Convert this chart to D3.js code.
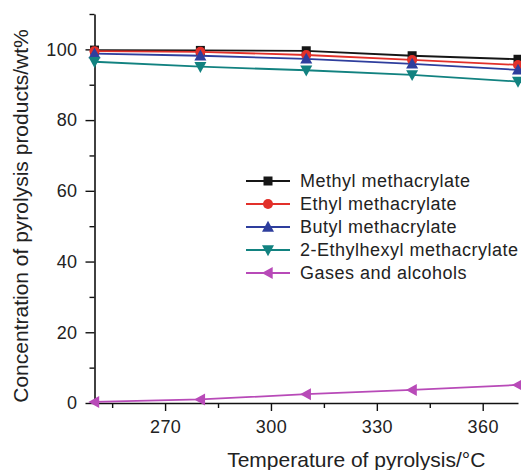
<!DOCTYPE html>
<html>
<head>
<meta charset="utf-8">
<script src="https://cdn.jsdelivr.net/npm/d3@7"></script>
<style>
  body { margin: 0; background: #fff; }
  svg { display: block; font-family: "Liberation Sans", Arial, sans-serif; }
</style>
</head>
<body>
<div id="chart"></div>
<script>
// data
const temps = [250, 280, 310, 340, 370];
const seriesNames = ["Methyl methacrylate", "Ethyl methacrylate", "Butyl methacrylate",
                     "2-Ethylhexyl methacrylate", "Gases and alcohols"];
const methyl = [99.8, 99.7, 99.6, 98.2, 97.2];
const ethyl = [99.5, 99.3, 98.4, 97.0, 95.6];
const butyl = [98.8, 98.2, 97.3, 95.9, 94.2];
const ethylhexyl = [96.5, 95.1, 94.1, 92.8, 90.9];
const gases = [0.3, 1.0, 2.5, 3.7, 5.1];
const xTickLabels = [270, 300, 330, 360];
const yTickLabels = [0, 20, 40, 60, 80, 100];

const colors = ["#161616", "#e2302a", "#2e3e9d", "#128280", "#b84ab8"];
const shapes = ["square", "circle", "up", "down", "left"];
const allSeries = [methyl, ethyl, butyl, ethylhexyl, gases];

const width = 521, height = 470;
const margin = {left: 94.5, right: 3, top: 14, bottom: 67};

const svg = d3.select("#chart").append("svg")
  .attr("width", width)
  .attr("height", height);

const x = d3.scaleLinear().domain([250, 370]).range([margin.left, width - margin.right]);
const y = d3.scaleLinear().domain([0, 110]).range([height - margin.bottom, margin.top]);

// minor ticks
svg.append("g")
  .attr("transform", `translate(0,${y(0)})`)
  .call(d3.axisBottom(x).tickValues([255, 285, 315, 345]).tickSize(5).tickFormat(""))
  .call(g => g.select(".domain").remove());
svg.append("g")
  .attr("transform", `translate(${x(250)},0)`)
  .call(d3.axisLeft(y).tickValues([10, 30, 50, 70, 90, 110]).tickSize(5).tickFormat(""))
  .call(g => g.select(".domain").remove());

// x axis
const gx = svg.append("g")
  .attr("transform", `translate(0,${y(0)})`)
  .call(d3.axisBottom(x).tickValues(xTickLabels).tickSize(8).tickPadding(9).tickSizeOuter(0));
gx.selectAll("text").attr("font-size", 18).attr("letter-spacing", 0.4).attr("fill", "#222").attr("font-family", null);

// y axis
const gy = svg.append("g")
  .attr("transform", `translate(${x(250)},0)`)
  .call(d3.axisLeft(y).tickValues(yTickLabels).tickSize(9).tickPadding(8).tickSizeOuter(0));
gy.selectAll("text").attr("font-size", 18).attr("letter-spacing", 0.4).attr("fill", "#222").attr("font-family", null);

svg.selectAll(".domain").attr("stroke", "#111").attr("stroke-width", 1.6);
svg.selectAll(".tick line").attr("stroke", "#111").attr("stroke-width", 1.4);

// axis titles
svg.append("text")
  .attr("x", (x(250) + x(370)) / 2 + 50)
  .attr("y", 467)
  .attr("text-anchor", "middle")
  .attr("font-size", 21)
  .attr("fill", "#222")
  .text("Temperature of pyrolysis/\u00B0C");

svg.append("text")
  .attr("transform", `translate(28,${216}) rotate(-90)`)
  .attr("text-anchor", "middle")
  .attr("font-size", 21)
  .attr("fill", "#222")
  .text("Concentration of pyrolysis products/wt%");

function marker(sel, shape, color) {
  const s = 5.2;
  if (shape === "square") {
    sel.append("rect").attr("x", -4.5).attr("y", -4.5).attr("width", 9).attr("height", 9).attr("fill", color);
  } else if (shape === "circle") {
    sel.append("circle").attr("r", 5).attr("fill", color);
  } else {
    const tri = {
      up: [[0, -s - 1], [s + 0.8, s - 0.5], [-s - 0.8, s - 0.5]],
      down: [[0, s + 1], [s + 0.8, -s + 0.5], [-s - 0.8, -s + 0.5]],
      left: [[-s - 1, 0], [s - 0.5, -s - 0.8], [s - 0.5, s + 0.8]]
    }[shape];
    sel.append("path").attr("d", d3.line()(tri) + "Z").attr("fill", color);
  }
}

const line = d3.line().x((d, i) => x(temps[i])).y(d => y(d));

const plot = svg.append("g");
allSeries.forEach((vals, k) => {
  plot.append("path")
    .datum(vals)
    .attr("d", line)
    .attr("fill", "none")
    .attr("stroke", colors[k])
    .attr("stroke-width", 1.8);
});
allSeries.forEach((vals, k) => {
  plot.selectAll(null)
    .data(vals)
    .enter().append("g")
    .attr("transform", (d, i) => `translate(${x(temps[i])},${y(d)})`)
    .each(function () { marker(d3.select(this), shapes[k], colors[k]); });
});

// legend
const legend = svg.append("g").attr("transform", "translate(246,181)");
seriesNames.forEach((name, k) => {
  const row = legend.append("g").attr("transform", `translate(0,${k * 23})`);
  row.append("line").attr("x1", 0).attr("x2", 44).attr("stroke", colors[k]).attr("stroke-width", 1.8);
  marker(row.append("g").attr("transform", "translate(22,0)"), shapes[k], colors[k]);
  row.append("text")
    .attr("x", 54)
    .attr("y", 0)
    .attr("dy", "0.35em")
    .attr("font-size", 18)
    .attr("letter-spacing", 0.5)
    .attr("fill", "#222")
    .text(name);
});
</script>
</body>
</html>
